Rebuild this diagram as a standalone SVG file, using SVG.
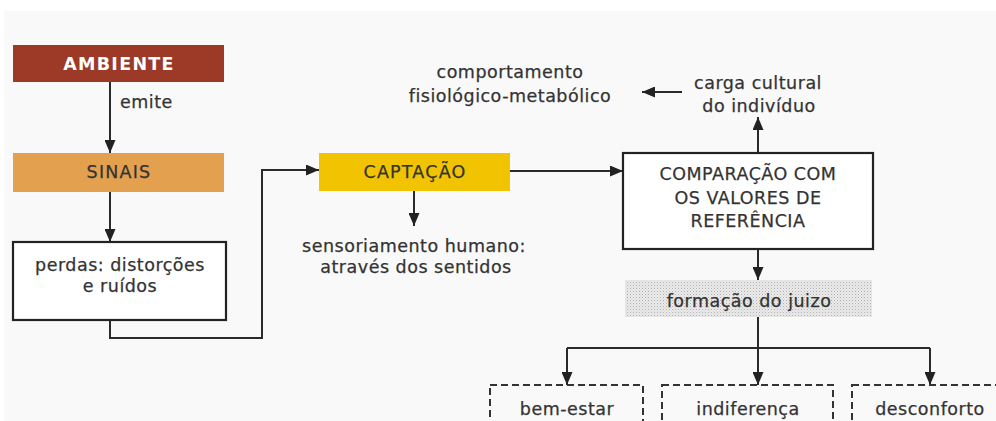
<svg xmlns="http://www.w3.org/2000/svg" width="996" height="421" viewBox="0 0 996 421">
<style>
.t{font-family:"DejaVu Sans",Verdana,sans-serif;font-size:17.5px;fill:#333333;letter-spacing:0.5px;text-anchor:middle;stroke:#333333;stroke-width:0.25px}
.cap{letter-spacing:1.2px}
.w{fill:#ffffff;stroke:none;font-weight:bold;letter-spacing:1.3px}
.c{fill:none;stroke:#2a2a2a;stroke-width:2}
.box{fill:#ffffff;stroke:#222;stroke-width:2.2}
.dash{fill:none;stroke:#333;stroke-width:2;stroke-dasharray:7 4}
</style>
<defs>
<marker id="ah" viewBox="0 0 13 11" refX="13" refY="5.5" markerWidth="13" markerHeight="11" markerUnits="userSpaceOnUse" orient="auto">
<path d="M0,0 L13,5.5 L0,11 z" fill="#222"/>
</marker>
<pattern id="dots" width="3" height="3" patternUnits="userSpaceOnUse">
<rect width="3" height="3" fill="#ebebeb"/>
<rect width="1" height="1" fill="#b0b0b0"/>
<rect x="1.5" y="1.5" width="1" height="1" fill="#c8c8c8"/>
</pattern>
</defs>
<rect x="0" y="0" width="996" height="421" fill="#ffffff"/>
<rect x="4" y="11" width="992" height="410" fill="#f9f9f9"/>

<g id="connectors">
<path class="c" d="M110,82 V153" marker-end="url(#ah)"/>
<path class="c" d="M110,192 V242" marker-end="url(#ah)"/>
<path class="c" d="M110,320 V338 H262 V170 H319" marker-end="url(#ah)"/>
<path class="c" d="M414,191 V226" marker-end="url(#ah)"/>
<path class="c" d="M510,171 H623" marker-end="url(#ah)"/>
<path class="c" d="M758,153 V117" marker-end="url(#ah)"/>
<path class="c" d="M682,92 H642" marker-end="url(#ah)"/>
<path class="c" d="M758,249 V280" marker-end="url(#ah)"/>
<path class="c" d="M758,317 V385" marker-end="url(#ah)"/>
<path class="c" d="M567,348 H930"/>
<path class="c" d="M567,348 V385" marker-end="url(#ah)"/>
<path class="c" d="M930,348 V385" marker-end="url(#ah)"/>
<text class="t" x="120" y="108" style="text-anchor:start">emite</text>
</g>

<g id="ambiente">
<rect x="13" y="45" width="211" height="37" fill="#9c3a27"/>
<text class="t w" x="119" y="70">AMBIENTE</text>
</g>
<g id="sinais">
<rect x="13" y="153" width="211" height="39" fill="#e3a04f"/>
<text class="t cap" x="119" y="178">SINAIS</text>
</g>
<g id="perdas">
<rect class="box" x="13" y="242" width="213" height="78"/>
<text class="t" x="120" y="271">perdas: distorções</text>
<text class="t" x="120" y="292">e ruídos</text>
</g>
<g id="captacao">
<rect x="319" y="153" width="191" height="38" fill="#f2c300"/>
<text class="t cap" x="415" y="178">CAPTAÇÃO</text>
</g>
<g id="sensoriamento">
<text class="t" x="414" y="252">sensoriamento humano:</text>
<text class="t" x="416" y="273">através dos sentidos</text>
</g>
<g id="comportamento">
<text class="t" x="510" y="78">comportamento</text>
<text class="t" x="510" y="102">fisiológico-metabólico</text>
</g>
<g id="carga">
<text class="t" x="758" y="89">carga cultural</text>
<text class="t" x="759" y="112">do indivíduo</text>
</g>
<g id="comparacao">
<rect class="box" x="623" y="153" width="250" height="96"/>
<text class="t" x="748" y="180">COMPARAÇÃO COM</text>
<text class="t" x="748" y="204">OS VALORES DE</text>
<text class="t" x="748" y="227">REFERÊNCIA</text>
</g>
<g id="formacao">
<rect x="625" y="280" width="247" height="37" fill="url(#dots)"/>
<text class="t" x="749" y="307">formação do juizo</text>
</g>
<g id="bemestar">
<rect class="dash" x="490" y="385" width="153" height="50"/>
<text class="t" x="567" y="415">bem-estar</text>
</g>
<g id="indiferenca">
<rect class="dash" x="662" y="385" width="171" height="50"/>
<text class="t" x="748" y="415">indiferença</text>
</g>
<g id="desconforto">
<rect class="dash" x="852" y="385" width="160" height="50"/>
<text class="t" x="930" y="415">desconforto</text>
</g>
</svg>
